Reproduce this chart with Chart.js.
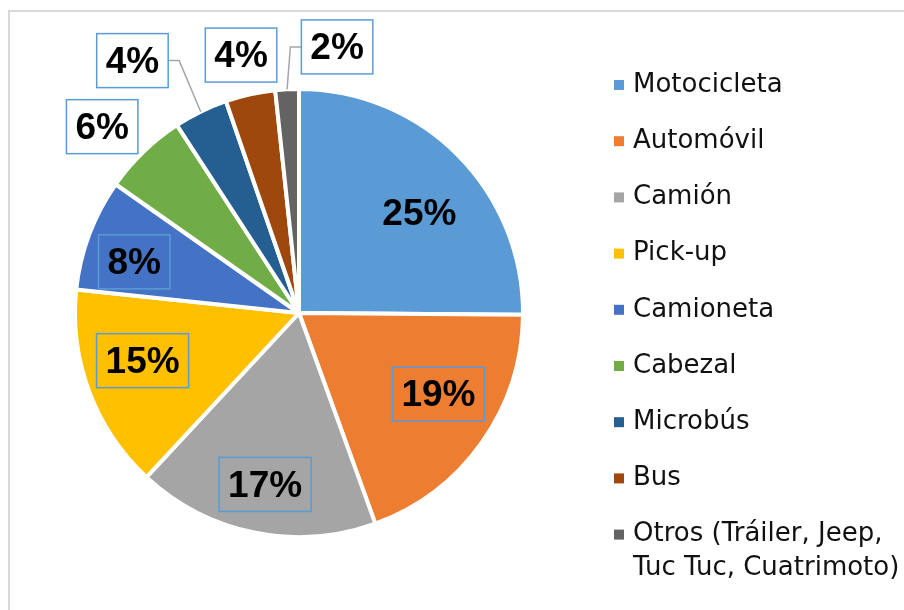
<!DOCTYPE html>
<html>
<head>
<meta charset="utf-8">
<script src="https://cdn.jsdelivr.net/npm/chart.js@4.4.1/dist/chart.umd.min.js"></script>
<style>
  html, body { margin: 0; padding: 0; background: #ffffff; }
  #wrap { width: 904px; height: 610px; position: relative; }
</style>
</head>
<body>
<div id="wrap"><canvas id="c" width="904" height="610"></canvas></div>
<script>
// ---- data ----
const categories = ['Motocicleta', 'Automóvil', 'Camión', 'Pick-up', 'Camioneta', 'Cabezal', 'Microbús', 'Bus', 'Otros (Tráiler, Jeep, Tuc Tuc, Cuatrimoto)'];
const shares = [25.2, 19.4, 17.5, 14.8, 8.1, 6.1, 3.9, 3.6, 1.7];
const colors = ['#5B9BD5', '#ED7D31', '#A5A5A5', '#FFC000', '#4472C4', '#70AD47', '#255E91', '#9E480E', '#636363'];

// label placement (relative to each slice: radius factor, angle shift in degrees)
const labelRadius = [0.70, 0.72, 0.78, 0.73, 0.77, 1.21, 1.35, 1.18, 1.20];
const labelShift  = [4.9, -5.1, -0.3, 3.6, -3.3, -2.6, -7.4, -0.1, 11.2];
const labelLeader = [false, false, false, false, false, false, true, false, true];

const LABEL_FONT = 'bold 37px "Liberation Sans", Arial, sans-serif';
const LEGEND_FONT = '26px "DejaVu Sans", sans-serif';

const framePlugin = {
  id: 'frame',
  beforeDraw(chart) {
    const ctx = chart.ctx;
    ctx.save();
    ctx.fillStyle = '#ffffff';
    ctx.fillRect(0, 0, chart.width, chart.height);
    ctx.strokeStyle = '#d9d9d9';
    ctx.lineWidth = 2;
    ctx.strokeRect(9, 11, chart.width + 20, chart.height + 20);
    ctx.restore();
  }
};

const labelPlugin = {
  id: 'boxLabels',
  afterDatasetsDraw(chart) {
    const ctx = chart.ctx;
    const meta = chart.getDatasetMeta(0);
    const data = chart.data.datasets[0].data;
    const total = data.reduce((a, b) => a + b, 0);
    ctx.save();
    ctx.font = LABEL_FONT;
    ctx.textAlign = 'center';
    ctx.textBaseline = 'middle';
    meta.data.forEach((arc, i) => {
      const p = arc.getProps(['x', 'y', 'startAngle', 'endAngle', 'outerRadius'], true);
      const mid = (p.startAngle + p.endAngle) / 2;
      const ang = mid + labelShift[i] * Math.PI / 180;
      const r = p.outerRadius * labelRadius[i];
      const lx = p.x + r * Math.cos(ang);
      const ly = p.y + r * Math.sin(ang);
      const txt = Math.round(data[i] / total * 100) + '%';
      const tw = ctx.measureText(txt).width;
      const bw = tw + 18, bh = 54;
      const outside = labelRadius[i] > 1;
      if (labelLeader[i]) {
        const ex = p.x + p.outerRadius * Math.cos(mid);
        const ey = p.y + p.outerRadius * Math.sin(mid);
        const sx = lx < ex ? lx + bw / 2 : lx - bw / 2;
        const kx = lx < ex ? sx + 11 : sx - 11;
        ctx.strokeStyle = '#A6A6A6';
        ctx.lineWidth = 1.5;
        ctx.beginPath();
        ctx.moveTo(sx, ly);
        ctx.lineTo(kx, ly);
        ctx.lineTo(ex, ey);
        ctx.stroke();
      }
      if (outside) {
        ctx.fillStyle = '#ffffff';
        ctx.fillRect(lx - bw / 2, ly - bh / 2, bw, bh);
      }
      ctx.strokeStyle = '#5B9BD5';
      ctx.lineWidth = 1.5;
      ctx.strokeRect(lx - bw / 2, ly - bh / 2, bw, bh);
      ctx.fillStyle = '#000000';
      ctx.fillText(txt, lx, ly + 2);
    });
    ctx.restore();
  }
};

const legendPlugin = {
  id: 'sideLegend',
  afterDraw(chart) {
    const ctx = chart.ctx;
    const ds = chart.data.datasets[0];
    ctx.save();
    ctx.font = LEGEND_FONT;
    ctx.textBaseline = 'middle';
    ctx.textAlign = 'left';
    const boxX = 614, textX = 633, startY = 85, step = 56.2, lineH = 34, maxW = 285;
    chart.data.labels.forEach((lab, i) => {
      const y = startY + i * step;
      ctx.fillStyle = ds.backgroundColor[i];
      ctx.fillRect(boxX, y - 5, 10, 10);
      const words = lab.split(' ');
      const lines = [];
      let cur = '';
      words.forEach(w => {
        const t = cur ? cur + ' ' + w : w;
        if (ctx.measureText(t).width > maxW && cur) { lines.push(cur); cur = w; } else { cur = t; }
      });
      if (cur) lines.push(cur);
      ctx.fillStyle = '#111111';
      lines.forEach((ln, k) => ctx.fillText(ln, textX, y + k * lineH));
    });
    ctx.restore();
  }
};

new Chart(document.getElementById('c'), {
  type: 'pie',
  data: {
    labels: categories,
    datasets: [{
      data: shares,
      backgroundColor: colors,
      borderColor: '#ffffff',
      borderWidth: 4
    }]
  },
  options: {
    responsive: false,
    animation: false,
    layout: { padding: { left: 73, top: 87, right: 379, bottom: 71 } },
    plugins: {
      legend: { display: false },
      tooltip: { enabled: false }
    }
  },
  plugins: [framePlugin, labelPlugin, legendPlugin]
});
</script>
</body>
</html>
